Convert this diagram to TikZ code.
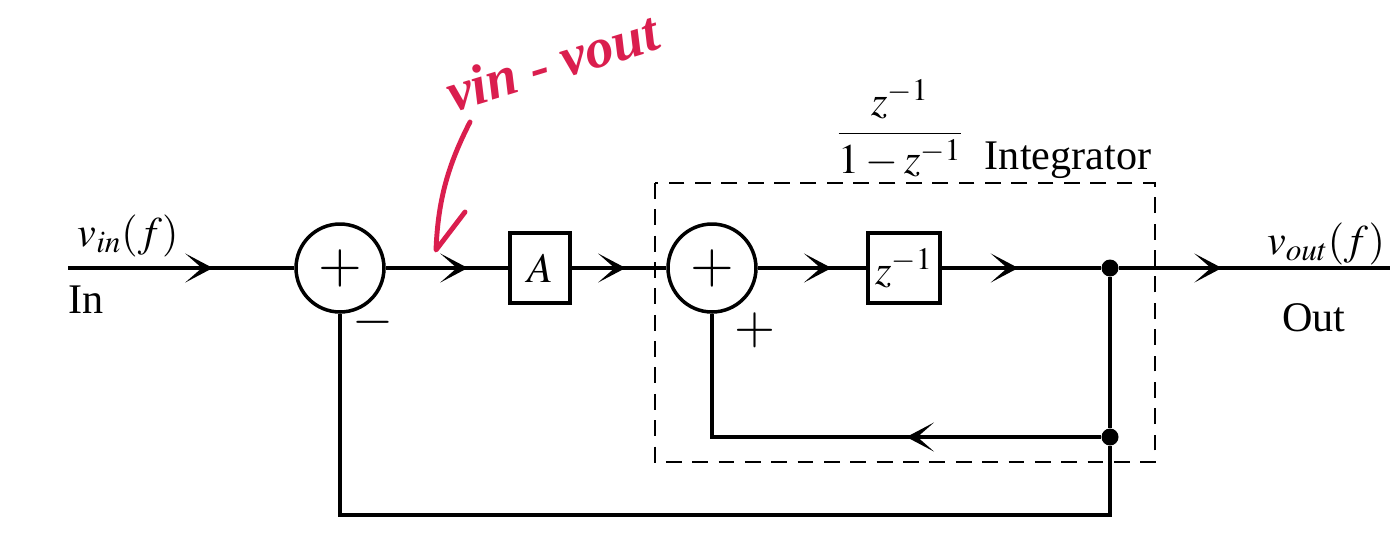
\documentclass[tikz,border=0pt]{standalone}
\usepackage{mathptmx}
\usepackage{fontspec}
\setmainfont{Liberation Serif}
\usepackage{xcolor}
\usetikzlibrary{arrows.meta,decorations.markings}

\definecolor{pen}{RGB}{218,30,78}

\tikzset{
  sig/.style={line width=2pt},
  flow/.style={postaction={decorate},
    decoration={markings,mark=at position #1 with
      {\arrow{Stealth[length=0.55cm,width=0.58cm,inset=0.33cm]}}}},
  sumnode/.style={circle,draw,line width=2pt,minimum size=1.76cm,inner sep=0pt,
    font=\fontsize{32}{32}\selectfont},
  gainbox/.style={rectangle,draw,line width=2pt,minimum height=1.4cm,inner sep=0pt},
  tapdot/.style={circle,fill,minimum size=0.34cm,inner sep=0pt},
  signlbl/.style={font=\fontsize{30}{30}\selectfont},
}

\begin{document}
\begin{tikzpicture}[x=0.02cm,y=-0.02cm,font=\fontsize{24}{28}\selectfont]
  \useasboundingbox (0,0) rectangle (1395,532);

  % forward path
  \coordinate (in) at (68,268);
  \node[sumnode] (sum1) at (340,268) {$+$};
  \node[gainbox,minimum width=1.2cm] (gain) at (540,268) {$A$};
  \node[sumnode] (sum2) at (712,268) {$+$};
  \node[gainbox,minimum width=1.44cm] (delay) at (904,268) {$z^{-1}$};
  \node[tapdot] (tap) at (1110,268) {};
  \coordinate (out) at (1390,268);

  \draw[sig,flow=0.64] (in) -- (sum1);
  \draw[sig,flow=0.67] (sum1) -- (gain);
  \draw[sig,flow=0.57] (gain) -- (sum2);
  \draw[sig,flow=0.68] (sum2) -- (delay);
  \draw[sig,flow=0.48] (delay) -- (tap);
  \draw[sig,flow=0.38] (tap) -- (out);

  % feedback paths
  \node[tapdot] (tap2) at (1110,437) {};
  \coordinate (inner) at (712,437);
  \coordinate (lowR) at (1110,515);
  \coordinate (lowL) at (340,515);
  \draw[sig] (tap) -- (tap2);
  \draw[sig,flow=0.38] (tap2) -- (inner) -- (sum2);
  \draw[sig] (tap2) -- (lowR) -- (lowL) -- (sum1);

  % integrator boundary
  \draw[line width=1.2pt,dash pattern=on 9pt off 6pt] (655,183) rectangle (1155,462);

  % labels
  \node (vin) at (128,236) {$v_{in}(f)$};
  \node (inlbl) at (86,300) {In};
  \node (vout) at (1326,244) {$v_{out}(f)$};
  \node (outlbl) at (1314,318) {Out};
  \node[signlbl] (minus) at (373,322) {$-$};
  \node[signlbl] (plus) at (755,330) {$+$};
  \node (tf) at (900,128) {$\displaystyle\frac{z^{-1}}{1-z^{-1}}$};
  \node (intlbl) at (1068,160) {Integrator};

  % hand-written note
  \node[pen,rotate=17,font=\fontsize{32}{36}\bfseries\itshape] (note) at (552,62) {vin - vout};
  \draw[pen,line width=2.8pt,line cap=round,line join=round]
    (470,122) .. controls (448,165) and (438,200) .. (436,250) -- (465,212);
\end{tikzpicture}
\end{document}
